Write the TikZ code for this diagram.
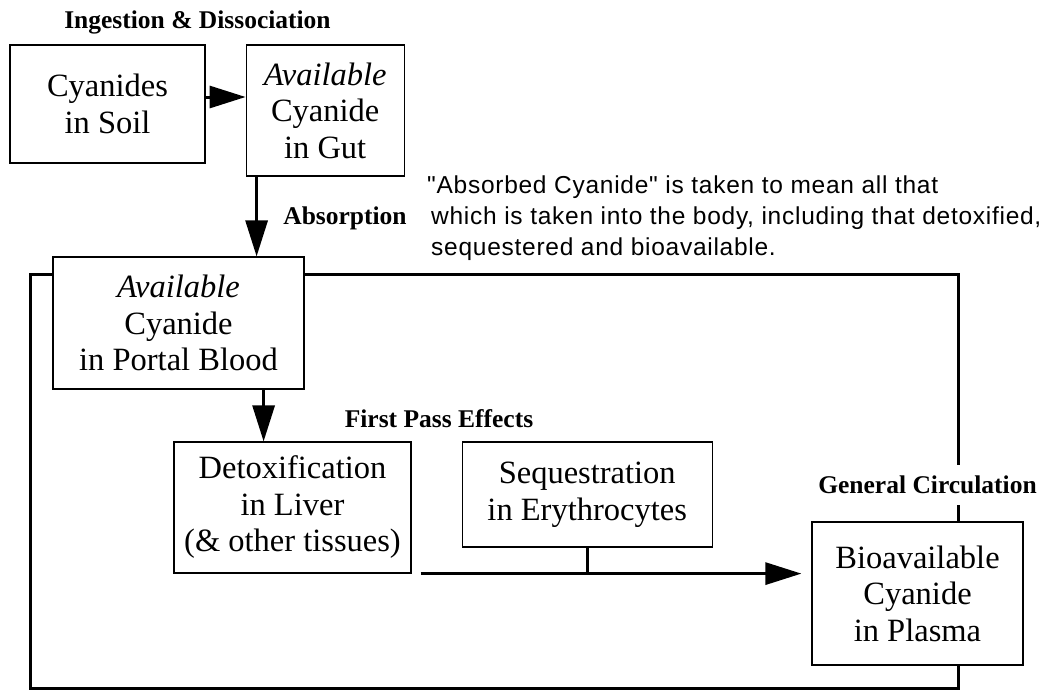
\documentclass[tikz,border=0pt]{standalone}
\usepackage{fontspec}
\setmainfont{Liberation Serif}
\newfontfamily\notefont[LetterSpace=3]{Liberation Sans}
\usetikzlibrary{arrows.meta, positioning}

\begin{document}
\begin{tikzpicture}[
    x=1pt, y=-1pt,
    node distance=40pt,
    block/.style={rectangle, draw, line width=1.2pt, fill=white, align=center, inner sep=0pt, font=\fontsize{32.5}{36.5}\selectfont},
    stage/.style={inner sep=0pt, font=\fontsize{25.5}{30}\selectfont\bfseries},
    note/.style={inner sep=0pt, align=left, anchor=west, font=\notefont\fontsize{24.5}{31}\selectfont},
    arrow/.style={-{Triangle[length=36pt, width=22pt]}, line width=3pt},
    link/.style={line width=3pt},
    frame/.style={line width=3pt}
]
    \useasboundingbox (0,0) rectangle (1048,689);

    % Ingestion
    \node [stage] (ingest) at (197.5,22) {Ingestion \& Dissociation};
    \node [block, minimum width=195pt, minimum height=118pt] (soil) at (107.5,104) {Cyanides\\in Soil};
    \node [block, minimum width=158pt, minimum height=131pt, right=40pt of soil.north east, anchor=north west] (gut) {\textit{Available}\\Cyanide\\in Gut};

    \node [stage] (absorb) at (345,218) {Absorption};
    \node [note] (remark) at (427,218) {"Absorbed Cyanide" is taken to mean all that\\
        \hspace{4pt}which is taken into the body, including that detoxified,\\
        \hspace{4pt}sequestered and bioavailable.};

    % Body
    \coordinate (tl) at (30,274);
    \coordinate (tr) at (958,274);
    \coordinate (bl) at (30,688);
    \coordinate (br) at (958,688);

    \node [block, minimum width=251pt, minimum height=132pt] (portal) at (178.5,323) {\textit{Available}\\Cyanide\\in Portal Blood};

    % First pass
    \node [stage] (firstpass) at (439,419) {First Pass Effects};
    \node [block, minimum width=237pt, minimum height=131pt] (liver) at (292.5,507.5) {Detoxification\\in Liver\\(\& other tissues)};
    \node [block, minimum width=250pt, minimum height=105pt, right=50pt of liver.north east, anchor=north west] (erythro) {Sequestration\\in Erythrocytes};

    % General circulation
    \node [stage, inner ysep=11pt] (circ) at (927.5,485) {General Circulation};
    \node [block, minimum width=211pt, minimum height=143pt] (plasma) at (917.5,593.5) {Bioavailable\\Cyanide\\in Plasma};

    % Frame
    \draw [frame] (portal.west |- tl) -- (tl) -- (bl) -- (br) -- (br |- plasma.south);
    \draw [frame] (br |- plasma.north) -- (br |- circ.south);
    \draw [frame] (br |- circ.north) -- (tr) -- (tr -| portal.east);

    % Arrows
    \draw [arrow] ([yshift=7pt]soil.east) -- ([yshift=7pt]soil.east -| gut.west);
    \draw [arrow] ([xshift=11pt]gut.south west) -- ([xshift=11pt]gut.south west |- portal.north);
    \draw [arrow] ([xshift=-41pt]portal.south east) -- ([xshift=-41pt]portal.south east |- liver.north);
    \draw [link] (erythro.south) -- (erythro.south |- liver.south);
    \draw [arrow, shorten <=9pt, shorten >=10pt] (liver.south east) -- (liver.south east -| plasma.west);

\end{tikzpicture}
\end{document}
